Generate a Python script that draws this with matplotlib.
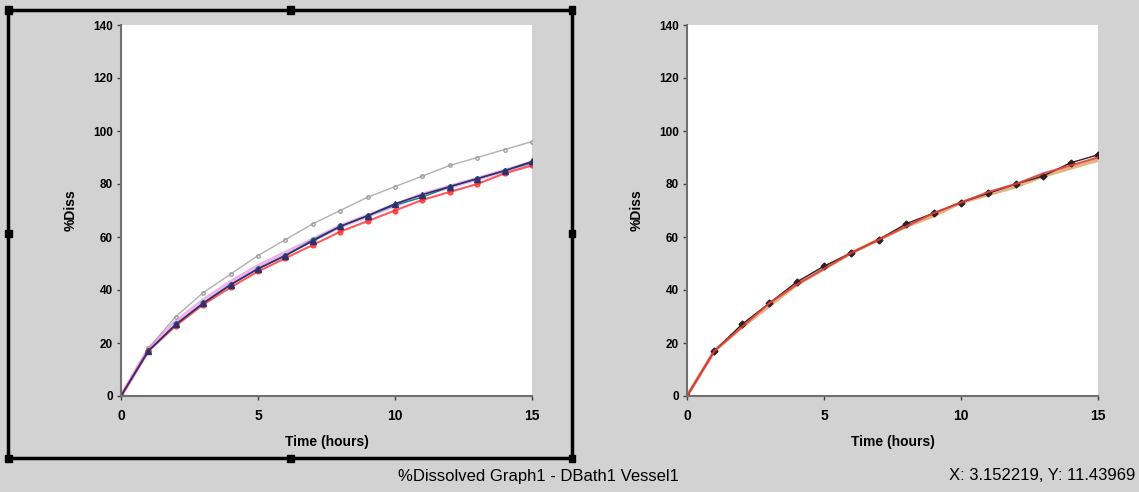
import matplotlib
matplotlib.use("Agg")
import matplotlib.pyplot as plt
from matplotlib.patches import Rectangle

# --- DATA ---
time_h = [0, 1, 2, 3, 4, 5, 6, 7, 8, 9, 10, 11, 12, 13, 14, 15]

# left graph: five vessels
left_gray = [0, 18, 30, 39, 46, 53, 59, 65, 70, 75, 79, 83, 87, 90, 93, 96]
left_pink = [0, 17.5, 28, 36, 43, 49, 54, 59, 64, 68, 72, 76, 79, 82, 85, 88]
left_teal = [0, 17, 27, 35, 42, 48, 53, 59, 64, 68, 72, 75, 79, 82, 85, 88]
left_navy = [0, 17, 27, 35, 42, 48, 53, 58.5, 64, 68, 72.5, 76, 79, 82, 85, 88.5]
left_red = [0, 17, 26.5, 34.5, 41, 47, 52, 57, 62, 66, 70, 74, 77, 80, 84, 87]

# right graph: three vessels
right_orange = [0, 17, 26, 34, 42, 48, 54, 59, 64, 68, 73, 76, 79, 83, 86, 89]
right_black = [0, 17, 27, 35, 43, 49, 54, 59, 65, 69, 73, 76.5, 80, 83, 88, 91]
right_red = [0, 17, 26, 35, 42, 48, 54, 59, 64, 69, 73, 77, 80, 84, 87, 90]

y_ticks = [0, 20, 40, 60, 80, 100, 120, 140]
x_ticks = [0, 5, 10, 15]

BG = "#d2d2d2"
FONT = "Liberation Sans"


def style_axes(ax):
    ax.set_facecolor("white")
    ax.set_xlim(0, 15)
    ax.set_ylim(0, 140)
    ax.set_xticks(x_ticks)
    ax.set_yticks(y_ticks)
    for s in ("top", "right"):
        ax.spines[s].set_visible(False)
    for s in ("left", "bottom"):
        ax.spines[s].set_color("#707070")
        ax.spines[s].set_linewidth(1.5)
    ax.tick_params(length=3, width=1, color="#404040")
    ax.tick_params(axis="x", pad=6)
    ax.tick_params(axis="y", pad=3)
    for lab in ax.get_xticklabels():
        lab.set_fontsize(10)
        lab.set_fontweight("bold")
        lab.set_family(FONT)
    for lab in ax.get_yticklabels():
        lab.set_fontsize(8.5)
        lab.set_fontweight("bold")
        lab.set_family(FONT)
    ax.set_xlabel("Time (hours)", fontsize=10, fontweight="bold", family=FONT, labelpad=9)
    ax.set_ylabel("%Diss", fontsize=10, fontweight="bold", family=FONT, labelpad=11)


fig = plt.figure(figsize=(11.39, 4.92), dpi=100)
fig.patch.set_facecolor(BG)

ax1 = fig.add_axes([121 / 1139, 1 - 396 / 492, 411 / 1139, 371 / 492])
ax2 = fig.add_axes([687 / 1139, 1 - 396 / 492, 411 / 1139, 371 / 492])

ax1.plot(time_h, left_gray, color="#b0b0b0", lw=1, marker="o", ms=2.5, mfc="none", mec="#a0a0a0")
ax1.plot(time_h, left_pink, color="#e080e0", lw=3, alpha=0.6)
ax1.plot(time_h, left_teal, color="#208080", lw=1, marker="o", ms=3.5)
ax1.plot(time_h, left_red, color="#ff3030", lw=1.5, marker="o", ms=3.5, alpha=0.8)
ax1.plot(time_h, left_navy, color="#303070", lw=1.2, marker="^", ms=4.5)
style_axes(ax1)

ax2.plot(time_h, right_orange, color="#e0a060", lw=2.5, alpha=0.8)
ax2.plot(time_h, right_black, color="#302020", lw=1, marker="D", ms=3.5)
ax2.plot(time_h, right_red, color="#e04040", lw=1.5, alpha=0.9)
style_axes(ax2)

# selection frame round the left graph, with its handles
frame = Rectangle((8 / 1139, 1 - 458 / 492), 564 / 1139, 448 / 492,
                  transform=fig.transFigure, fill=False, ec="black", lw=2.5)
fig.patches.append(frame)
hx = [8, 290, 572]
hy = [10, 234, 458]
for x in hx:
    for y in hy:
        if x == 290 and y == 234:
            continue
        fig.patches.append(Rectangle(((x - 3.5) / 1139, 1 - (y + 3.5) / 492), 7 / 1139, 7 / 492,
                                     transform=fig.transFigure, fc="black", ec="black"))

fig.text(538 / 1139, 1 - 476 / 492, "%Dissolved Graph1 - DBath1 Vessel1",
         ha="center", va="center", fontsize=12, family=FONT)
fig.text(1135 / 1139, 1 - 476 / 492, "X: 3.152219, Y: 11.43969",
         ha="right", va="center", fontsize=12, family=FONT)

fig.savefig("out.png", dpi=100, facecolor=BG)
